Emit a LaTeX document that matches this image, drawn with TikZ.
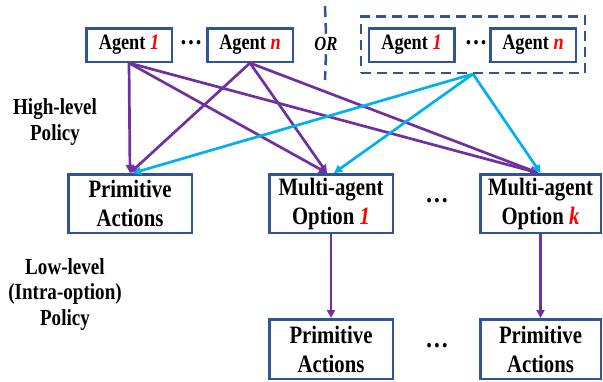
\documentclass[tikz,border=0pt]{standalone}
\usepackage{fontspec}
\setmainfont{Liberation Serif}[FakeStretch=0.83]
\usetikzlibrary{arrows.meta}
\definecolor{boxblue}{RGB}{47,85,151}
\definecolor{arrpurple}{RGB}{112,48,160}
\definecolor{arrcyan}{RGB}{0,176,240}
\definecolor{numred}{RGB}{255,0,0}
\newcommand{\idx}[1]{\textcolor{numred}{\textit{#1}}}
\tikzset{
  agent/.style={draw=boxblue, line width=2.5pt, minimum width=85.5pt, minimum height=33.5pt,
    inner sep=0pt, font=\fontsize{22}{26}\selectfont\bfseries},
  block/.style={draw=boxblue, line width=2.5pt, minimum width=123.5pt, minimum height=58.5pt,
    inner sep=0pt, align=center, font=\fontsize{25}{29}\selectfont\bfseries},
  lvltext/.style={align=center, font=\fontsize{23}{25.5}\selectfont\bfseries},
  dotstext/.style={inner sep=0pt, font=\fontsize{27}{30}\selectfont\bfseries},
  grpbox/.style={draw=boxblue, line width=2.5pt, dash pattern=on 10pt off 6pt,
    minimum width=224pt, minimum height=56.5pt, inner sep=0pt},
  sepline/.style={draw=boxblue, line width=2.5pt, dash pattern=on 11pt off 6pt},
  hiarrow/.style={-{Triangle[length=8pt,width=8pt]}, line width=2.7pt, draw=arrpurple},
  grparrow/.style={-{Triangle[length=8pt,width=8pt]}, line width=2.7pt, draw=arrcyan},
  loarrow/.style={-{Triangle[length=8pt,width=8pt]}, line width=2.4pt, draw=arrpurple}
}
\begin{document}
\begin{tikzpicture}[x=1pt,y=-1pt]
    \useasboundingbox (0,0) rectangle (603,381);
    % agents, left group
    \node [agent] (a1) at (129,45) {Agent \idx{1}};
    \node [agent] (an) at (250,45) {Agent \idx{n}};
    \node [dotstext] (adots) at (191,43) {…};
    % or separator
    \node [font=\fontsize{20}{24}\selectfont\bfseries\itshape] (orl) at (326,44) {OR};
    \coordinate (septop) at (325,6);
    \coordinate (sepbot) at (325,80);
    \draw [sepline] (septop) -- (orl.north);
    \draw [sepline] (orl.south) -- (sepbot);
    % agents, right group
    \node [grpbox] (grp) at (473,44.5) {};
    \node [agent] (b1) at (411.5,45) {Agent \idx{1}};
    \node [agent] (bn) at (533,45) {Agent \idx{n}};
    \node [dotstext] (bdots) at (476,43) {…};
    % options
    \node [block] (pa) at (130,203.5) {Primitive\\Actions};
    \node [block] (mo1) at (331,203.5) {Multi-agent\\Option \idx{1}};
    \node [block, minimum width=120.5pt] (mok) at (540.5,203.5) {Multi-agent\\Option \idx{k}};
    \node [dotstext, font=\fontsize{28}{30}\selectfont\bfseries] (odots) at (437,201) {…};
    % primitive actions
    \node [block, minimum height=59.5pt] (pa1) at (331,349) {Primitive\\Actions};
    \node [block, minimum width=120.5pt, minimum height=59.5pt] (pak) at (540.5,349) {Primitive\\Actions};
    \node [dotstext, font=\fontsize{28}{30}\selectfont\bfseries] (pdots) at (437,346) {…};
    % levels
    \node [lvltext] (hipol) at (55,122) {High-level\\Policy};
    \node [lvltext] (lopol) at (65,294) {Low-level\\(Intra-option)\\Policy};
    % high-level policy arrows
    \draw [hiarrow] (a1.south) -- (pa.north);
    \draw [hiarrow] (a1.south) -- ([xshift=-4pt]mo1.north);
    \draw [hiarrow] (a1.south) -- ([xshift=-2pt]mok.north);
    \draw [hiarrow] (an.south) -- (pa.north);
    \draw [hiarrow] (an.south) -- ([xshift=-4pt]mo1.north);
    \draw [hiarrow] (an.south) -- ([xshift=-2pt]mok.north);
    \draw [grparrow] (grp.south) -- ([xshift=3pt]pa.north);
    \draw [grparrow] (grp.south) -- ([xshift=3pt]mo1.north);
    \draw [grparrow] (grp.south) -- (mok.north);
    % low-level policy arrows
    \draw [loarrow] (mo1.south) -- (pa1.north);
    \draw [loarrow] (mok.south) -- (pak.north);
\end{tikzpicture}
\end{document}
